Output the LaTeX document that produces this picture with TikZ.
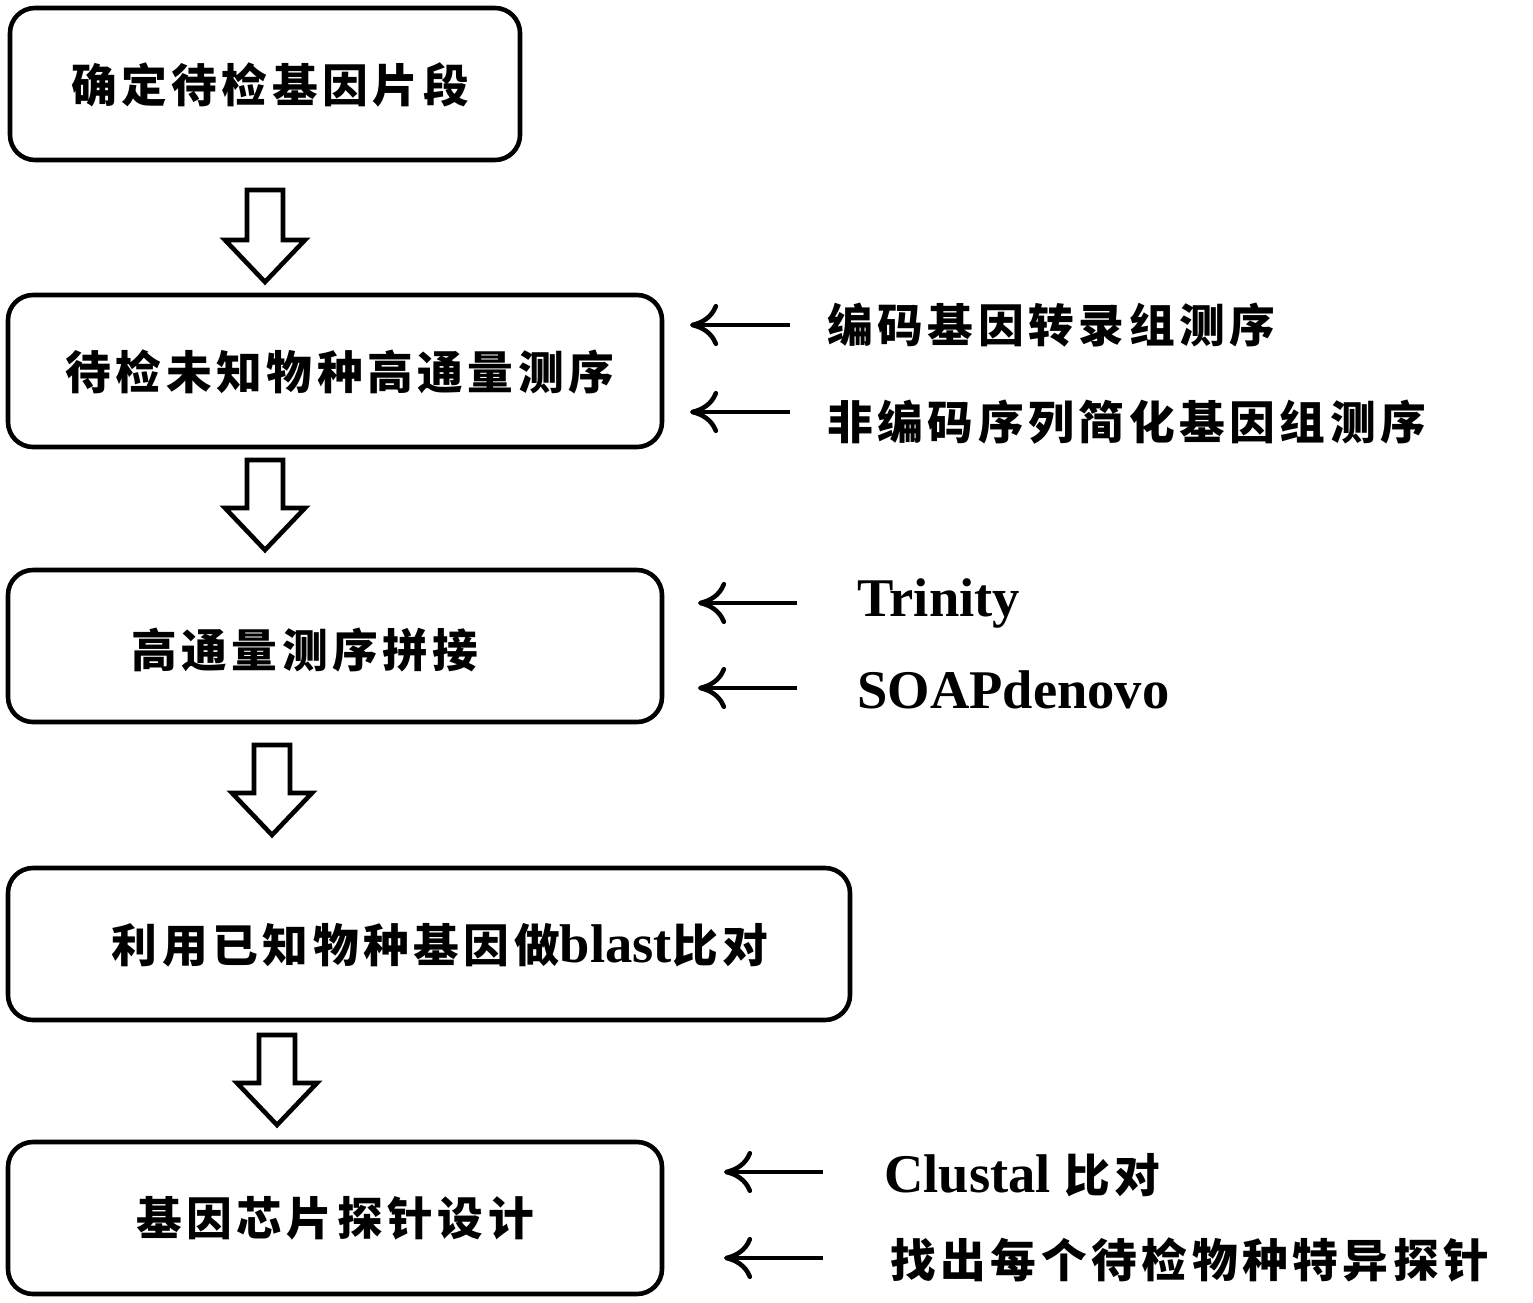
\documentclass[tikz,border=0pt]{standalone}
\usepackage{fontspec}
\setmainfont{Liberation Serif}
\newfontfamily\cjk{Noto Sans CJK SC}[LetterSpace=10]
\usepackage{tikz}
\usetikzlibrary{arrows.meta,positioning}

\begin{document}
\begin{tikzpicture}[x=0.01cm,y=-0.01cm]
    \tikzstyle{stepbox}=[draw=black,line width=1.3pt,rounded corners=0.25cm]
    \tikzstyle{steptxt}=[font=\cjk\bfseries\fontsize{13}{15}\selectfont]
    \tikzstyle{sidetxt}=[anchor=west,font=\cjk\bfseries\fontsize{13}{15}\selectfont]
    \tikzstyle{latintxt}=[anchor=west,font=\bfseries\fontsize{15.5}{18}\selectfont]
    \tikzstyle{hollow}=[draw=black,line width=1.3pt,fill=white]
    \tikzstyle{feed}=[line width=1.3pt,-{To[length=8pt,width=12pt]}]

    \useasboundingbox (0,0) rectangle (1533,1303);

    % the boxes of the flow
    \draw[stepbox] (10,8) rectangle (520,160);
    \node[steptxt] (s1) at (270,85) {确定待检基因片段};
    \draw[stepbox] (8,295) rectangle (662,447);
    \node[steptxt] (s2) at (340,372) {待检未知物种高通量测序};
    \draw[stepbox] (8,570) rectangle (662,722);
    \node[steptxt] (s3) at (305,650) {高通量测序拼接};
    \draw[stepbox] (8,868) rectangle (850,1020);
    \node[font=\bfseries\fontsize{15.5}{18}\selectfont] (s4) at (440,945)
        {{\cjk\fontsize{13}{15}\selectfont 利用已知物种基因做}blast{\cjk\fontsize{13}{15}\selectfont 比对}};
    \draw[stepbox] (8,1142) rectangle (662,1294);
    \node[steptxt] (s5) at (335,1218) {基因芯片探针设计};

    % hollow arrows between the boxes
    \foreach \cx/\ty/\by in {265/190/282, 265/460/550, 272/745/835, 277/1035/1125}{
      \draw[hollow] (\cx-18,\ty) -- (\cx+18,\ty) -- (\cx+18,\by-42)
                    -- (\cx+40,\by-42) -- (\cx,\by) -- (\cx-40,\by-42)
                    -- (\cx-18,\by-42) -- cycle;
    }

    % inputs on the right
    \node[sidetxt] (a1) at (815,325) {编码基因转录组测序};
    \node[sidetxt] (a2) at (815,422) {非编码序列简化基因组测序};
    \node[latintxt] (b1) at (845,603) {Trinity};
    \node[latintxt] (b2) at (845,690) {SOAPdenovo};
    \node[latintxt] (c1) at (872,1175)
        {Clustal {\cjk\fontsize{13}{15}\selectfont 比对}};
    \node[sidetxt] (c2) at (878,1260) {找出每个待检物种特异探针};

    \coordinate (p1) at (690,325);
    \coordinate (p2) at (690,412);
    \coordinate (q1) at (698,603);
    \coordinate (q2) at (698,688);
    \coordinate (r1) at (724,1172);
    \coordinate (r2) at (724,1258);

    \draw[feed] (790,325) -- (p1);
    \draw[feed] (790,412) -- (p2);
    \draw[feed] (797,603) -- (q1);
    \draw[feed] (797,688) -- (q2);
    \draw[feed] (823,1172) -- (r1);
    \draw[feed] (823,1258) -- (r2);
\end{tikzpicture}
\end{document}
